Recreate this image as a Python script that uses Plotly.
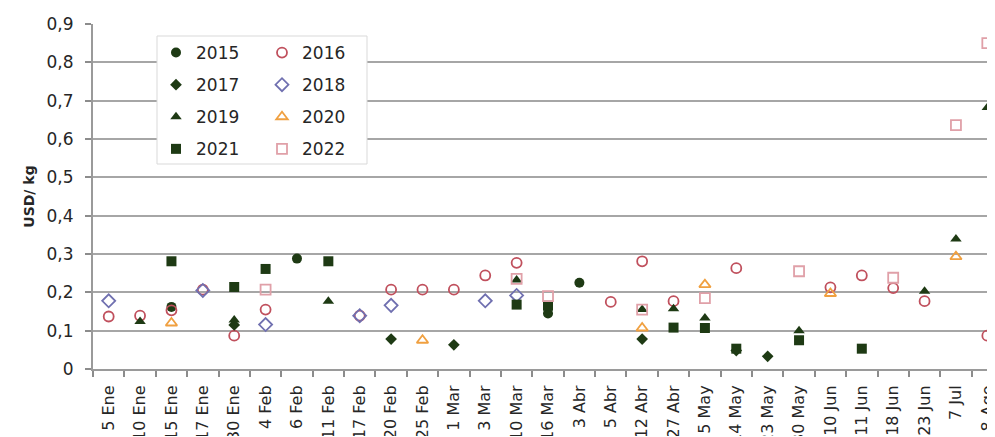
import plotly.graph_objects as go

categories = ["5 Ene", "10 Ene", "15 Ene", "17 Ene", "30 Ene", "4 Feb", "6 Feb", "11 Feb", "17 Feb",
              "20 Feb", "25 Feb", "1 Mar", "3 Mar", "10 Mar", "16 Mar", "3 Abr", "5 Abr", "12 Abr",
              "27 Abr", "5 May", "14 May", "23 May", "30 May", "10 Jun", "11 Jun", "18 Jun", "23 Jun",
              "7 Jul", "8 Ago"]

N = None
y2015 = [N, N, 0.162, N, N, N, 0.288, N, N, N, N, N, N, N, 0.145, 0.225, N, N, N, N, N, N, N, N, N, N, N, N, N]
y2016 = [0.137, 0.139, 0.153, 0.207, 0.087, 0.155, N, N, 0.139, 0.207, 0.207, 0.207, 0.244, 0.277, N, N, 0.175,
         0.281, 0.177, N, 0.263, N, N, 0.213, 0.244, 0.211, 0.177, N, 0.087]
y2017 = [N, N, N, N, 0.115, N, N, N, N, 0.078, N, 0.063, N, N, N, N, N, 0.078, N, N, 0.048, 0.033, N, N, N, N, N, N, N]
y2018 = [0.178, N, N, 0.205, N, 0.116, N, N, 0.139, 0.166, N, N, 0.178, 0.192, N, N, N, N, N, N, N, N, N, N, N, N, N, N, N]
y2019 = [N, 0.124, N, N, 0.128, N, N, 0.177, N, N, N, N, N, 0.232, N, N, N, 0.155, 0.157, 0.133, N, N, 0.100,
         N, N, N, 0.203, 0.339, 0.682]
y2020 = [N, N, 0.120, N, N, N, N, N, N, N, 0.075, N, N, N, N, N, N, 0.107, N, 0.220, N, N, N, 0.197, N, N, N, 0.293, N]
y2021 = [N, N, 0.281, N, 0.214, 0.261, N, 0.281, N, N, N, N, N, 0.168, 0.165, N, N, N, 0.108, 0.107, 0.053, N,
         0.075, N, 0.053, N, N, N, N]
y2022 = [N, N, N, N, N, 0.207, N, N, N, N, N, N, N, 0.235, 0.190, N, N, 0.155, N, 0.185, N, N, 0.255, N, N,
         0.238, N, 0.636, 0.850]

DARK = "#1e3a14"
series = [
    ("2015", y2015, "circle", DARK, 10, "legend"),
    ("2016", y2016, "circle-open", "#c0505d", 10, "legend2"),
    ("2017", y2017, "diamond", DARK, 9, "legend"),
    ("2018", y2018, "diamond-open", "#7070b0", 10, "legend2"),
    ("2019", y2019, "triangle-up", DARK, 10, "legend"),
    ("2020", y2020, "triangle-up-open", "#f0a040", 10, "legend2"),
    ("2021", y2021, "square", DARK, 10, "legend"),
    ("2022", y2022, "square-open", "#e0a0a8", 10, "legend2"),
]

FONT = "DejaVu Sans"
fig = go.Figure()
for name, vals, sym, col, size, lg in series:
    fig.add_trace(go.Scatter(
        x=categories, y=vals, mode="markers", name=name, legend=lg, legendgroup=name,
        marker=dict(symbol=sym, color=col, size=size, line=dict(color=col, width=1.8 if "open" in sym else 0)),
    ))

# page body has an 8px margin: work in window pixels, convert to figure pixels
OFF = 8
BOTTOM = 436  # window y where the figure (and the rotated labels) end
W, H = 995 - OFF, BOTTOM - OFF
L, R, T, B = 93 - OFF, 0, 24 - OFF, BOTTOM - 369
pw = W - L - R
ph = H - T - B
step = 31.38
xmax = -0.5 + pw / step

def px2paper(x, y):
    # x, y are window pixels
    return (x - OFF - L) / pw, (H - B - (y - OFF)) / ph

bx0, by0 = px2paper(157, 164)
bx1, by1 = px2paper(367, 36)
l1x, l1y = px2paper(156, 35)
l2x, l2y = px2paper(262, 35)

legend_common = dict(
    xref="paper", yref="paper", xanchor="left", yanchor="top",
    bgcolor="rgba(0,0,0,0)", borderwidth=0, tracegroupgap=7,
    font=dict(family=FONT, size=17, color="#262626"), orientation="v",
    traceorder="grouped",
)

fig.update_layout(
    width=W, height=H,
    margin=dict(l=L, r=R, t=T, b=B, autoexpand=False),
    paper_bgcolor="white", plot_bgcolor="white",
    separators=",.",
    font=dict(family=FONT, size=17, color="#262626"),
    showlegend=True,
    legend=dict(x=l1x, y=l1y, **legend_common),
    legend2=dict(x=l2x, y=l2y, **legend_common),
    shapes=[dict(type="rect", xref="paper", yref="paper", x0=bx0, x1=bx1, y0=by0, y1=by1,
                 line=dict(color="#d9d9d9", width=1), fillcolor="white", layer="above")],
    xaxis=dict(
        type="category", categoryorder="array", categoryarray=categories,
        range=[-0.5, xmax], tickson="boundaries", ticks="outside", ticklen=6, tickwidth=1.5,
        tickcolor="#8c8c8c", showline=True, linecolor="#9a9a9a", linewidth=2, showgrid=False,
        tickangle=-90, tickfont=dict(family=FONT, size=16, color="#262626"),
        ticklabelstandoff=8, automargin=False,
    ),
    yaxis=dict(
        range=[0, 0.9], dtick=0.1, tick0=0, showgrid=True, gridcolor="#a6a6a6", gridwidth=2,
        zeroline=False, showline=True, linecolor="#9a9a9a", linewidth=2,
        ticks="outside", ticklen=6, tickwidth=1.5, tickcolor="#8c8c8c",
        tickfont=dict(family=FONT, size=17, color="#262626"), ticklabelstandoff=8,
        title=dict(text="<b>USD/ kg</b>", font=dict(family=FONT, size=14, color="#262626"), standoff=9),
        automargin=False,
    ),
)

fig.write_html("out.html")
